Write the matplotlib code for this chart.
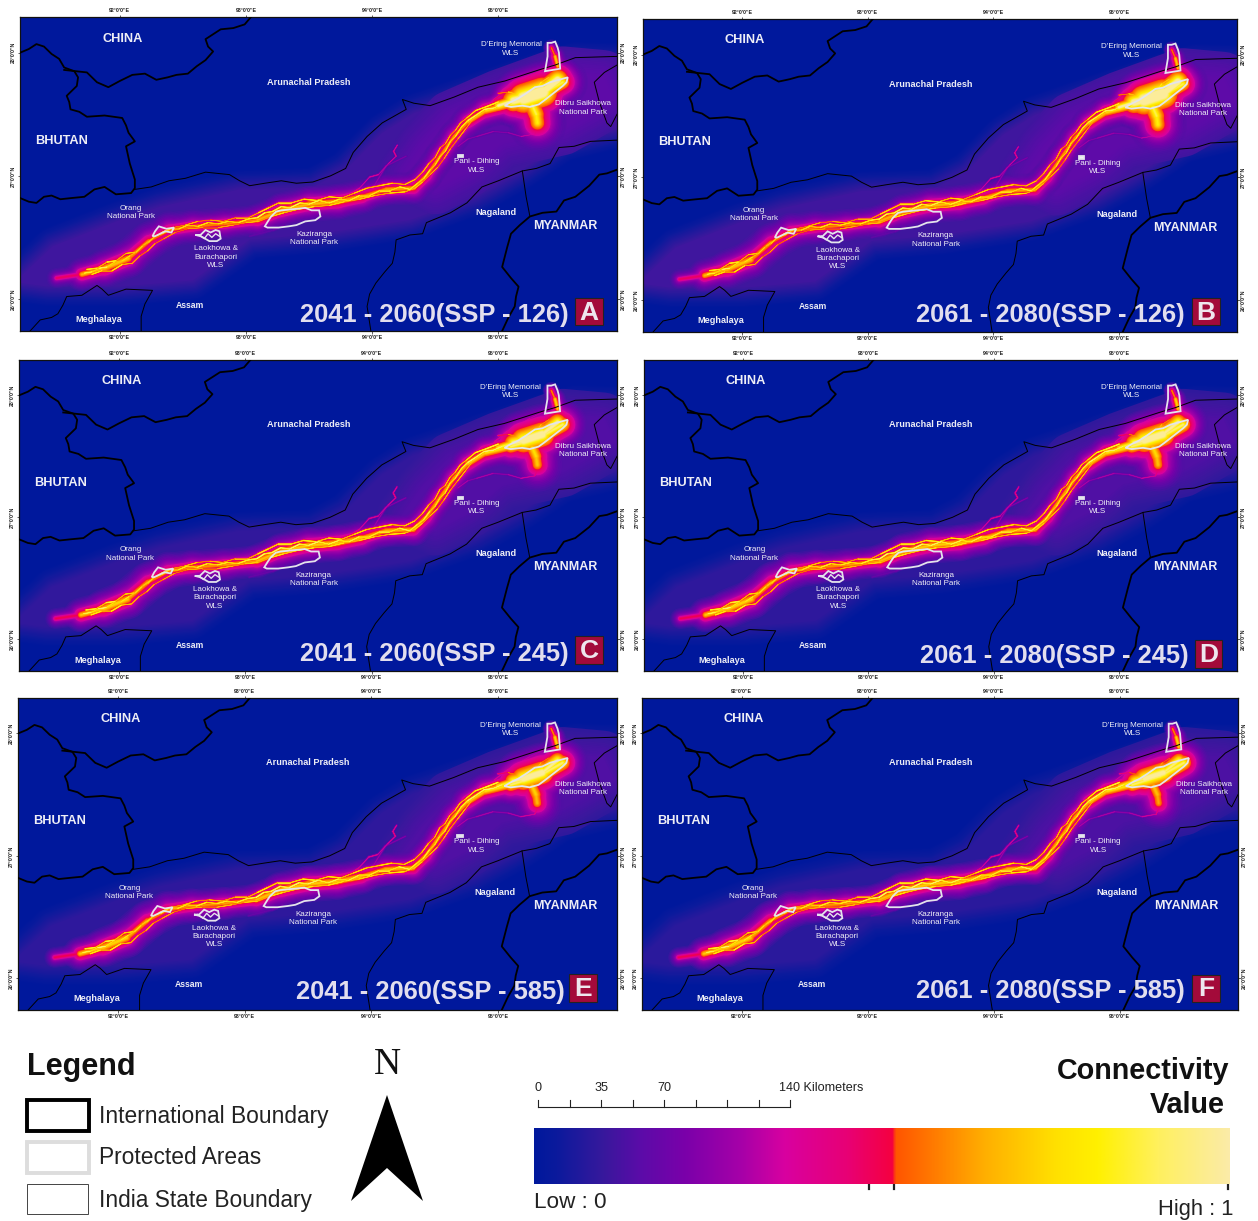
import numpy as np
import matplotlib
matplotlib.use("Agg")
import matplotlib.pyplot as plt
from matplotlib.collections import LineCollection
from matplotlib.colors import LinearSegmentedColormap
from matplotlib.patches import Rectangle, Polygon

W, H = 1258, 1221
plt.rcParams['font.family'] = ['Liberation Sans', 'DejaVu Sans']

# ---------- panels ----------
periods = ['2041 - 2060', '2061 - 2080', '2041 - 2060', '2061 - 2080', '2041 - 2060', '2061 - 2080']
ssps = ['126', '126', '245', '245', '585', '585']
letters = ['A', 'B', 'C', 'D', 'E', 'F']
panel_haze = [0.11, 0.11, 0.09, 0.085, 0.085, 0.08]
panel_core = [1.00, 1.00, 1.04, 1.04, 1.04, 1.04]
panel_blob = [1.00, 1.00, 0.86, 0.84, 0.82, 0.78]

lon_ticks = [92, 93, 94, 95]
lat_ticks = [26, 27, 28]
lon_range = (91.21, 95.94)
lat_range = (25.74, 28.29)

# ---------- connectivity colour ramp ----------
ramp_pos = [0, 0.03, 0.10, 0.15, 0.22, 0.30, 0.36, 0.45, 0.515, 0.52, 0.65, 0.75, 0.81, 0.90, 1.0]
ramp_col = ['#00189c', '#0a1a9c', '#38189c', '#5a0ca8', '#7c00aa', '#a800a8', '#d800a0', '#e80075',
            '#f50040', '#ff5500', '#ffb000', '#ffe000', '#fff000', '#fff060', '#fbeba8']

# ---------- boundaries (lon, lat) ----------
intl_west_lon = [91.21, 91.28, 91.34, 91.40, 91.46, 91.52, 91.56, 91.64, 91.67, 91.66, 91.58, 91.60, 91.61, 91.68, 91.74, 91.88, 92.02, 92.05, 92.07, 92.12, 92.05, 92.08, 92.12, 92.12, 92.09, 91.97, 91.88, 91.80, 91.72, 91.62, 91.53, 91.46, 91.40, 91.34, 91.28, 91.21]
intl_west_lat = [28.00, 28.03, 28.07, 28.05, 27.99, 27.95, 27.88, 27.85, 27.80, 27.73, 27.65, 27.60, 27.54, 27.52, 27.48, 27.49, 27.47, 27.41, 27.35, 27.28, 27.24, 27.10, 26.97, 26.90, 26.86, 26.85, 26.91, 26.89, 26.83, 26.82, 26.81, 26.84, 26.83, 26.78, 26.79, 26.82]
intl_china_lon = [91.56, 91.74, 91.82, 91.91, 92.00, 92.10, 92.20, 92.29, 92.38, 92.45, 92.54, 92.61, 92.68, 92.74, 92.70, 92.68, 92.74, 92.80, 92.90, 92.99, 93.04]
intl_china_lat = [27.86, 27.84, 27.76, 27.72, 27.77, 27.82, 27.83, 27.78, 27.80, 27.82, 27.83, 27.89, 27.94, 28.01, 28.05, 28.11, 28.15, 28.19, 28.20, 28.23, 28.29]
intl_myanmar_lon = [95.94, 95.86, 95.80, 95.72, 95.61, 95.52, 95.46, 95.35, 95.25, 95.17, 95.10, 95.07, 95.05, 95.03, 95.10, 95.16, 95.14, 95.13, 95.08, 95.03]
intl_myanmar_lat = [27.05, 27.02, 27.01, 26.92, 26.83, 26.80, 26.71, 26.70, 26.67, 26.60, 26.53, 26.42, 26.34, 26.26, 26.17, 26.10, 26.02, 25.94, 25.85, 25.74]

state_ap_lon = [92.12, 92.25, 92.39, 92.52, 92.68, 92.87, 92.95, 93.03, 93.15, 93.28, 93.40, 93.53, 93.67, 93.79, 93.85, 93.96, 94.08, 94.27, 94.24, 94.33, 94.46, 94.65, 94.84, 95.05, 95.32, 95.45, 95.61, 95.94]
state_ap_lat = [26.89, 26.91, 26.96, 26.98, 27.03, 27.01, 26.96, 26.92, 26.94, 26.96, 26.94, 26.95, 27.00, 27.06, 27.19, 27.32, 27.43, 27.54, 27.62, 27.59, 27.57, 27.64, 27.72, 27.77, 27.86, 27.90, 27.96, 27.97]
state_naga_lon = [95.94, 95.73, 95.60, 95.48, 95.41, 95.30, 95.19, 95.00, 94.87, 94.75, 94.62, 94.43, 94.40, 94.30, 94.19, 94.18, 94.16, 94.10, 94.03, 93.98, 93.96, 93.99]
state_naga_lat = [27.29, 27.28, 27.24, 27.23, 27.10, 27.06, 27.04, 26.96, 26.91, 26.78, 26.70, 26.62, 26.53, 26.52, 26.48, 26.38, 26.29, 26.22, 26.13, 26.04, 25.94, 25.74]
state_link_lon = [95.19, 95.22, 95.25]
state_link_lat = [27.04, 26.83, 26.67]
state_east_lon = [95.94, 95.84, 95.76, 95.80, 95.86, 95.89, 95.94]
state_east_lat = [27.90, 27.84, 27.76, 27.60, 27.43, 27.40, 27.50]
state_megh_lon = [91.29, 91.37, 91.46, 91.51, 91.55, 91.58, 91.70, 91.82, 91.86, 91.91, 92.05, 92.26, 92.20, 92.17, 92.17]
state_megh_lat = [25.74, 25.83, 25.85, 25.88, 25.95, 26.02, 26.03, 26.11, 26.08, 26.03, 26.08, 26.07, 25.96, 25.86, 25.74]

# ---------- low-connectivity envelopes ----------
haze_lon = [91.21, 91.47, 91.97, 92.32, 92.95, 93.53, 93.79, 94.08, 94.33, 94.87, 95.32, 95.61, 95.94, 95.94, 95.51, 95.19, 94.81, 94.30, 93.60, 93.03, 92.58, 92.01, 91.43, 91.21]
haze_lat = [26.18, 26.43, 26.63, 26.75, 26.89, 26.91, 27.05, 27.35, 27.51, 27.70, 27.85, 27.93, 27.92, 27.38, 27.27, 27.05, 26.83, 26.64, 26.53, 26.48, 26.15, 26.10, 26.10, 26.13]
east_haze_lon = [94.25, 94.40, 94.62, 95.00, 95.51, 95.83, 95.92, 95.51, 95.03, 94.78, 94.50]
east_haze_lat = [27.02, 27.24, 27.48, 27.65, 27.84, 27.81, 27.62, 27.38, 27.27, 27.05, 26.90]

# ---------- corridors: (lon, lat, connectivity level, glow width) ----------
main_lon = [91.50, 91.70, 91.88, 92.07, 92.23, 92.39, 92.58, 92.83, 93.09, 93.28, 93.50, 93.73, 93.92, 94.11, 94.33, 94.43, 94.54, 94.65, 94.76, 94.90, 95.10, 95.32, 95.51]
main_lat = [26.17, 26.20, 26.25, 26.33, 26.47, 26.56, 26.59, 26.61, 26.64, 26.72, 26.77, 26.79, 26.83, 26.89, 26.90, 27.00, 27.16, 27.32, 27.44, 27.53, 27.58, 27.65, 27.76]
main_level = [0.50, 0.70, 0.72, 0.62, 0.58, 0.60, 0.60, 0.62, 0.68, 0.70, 0.70, 0.68, 0.64, 0.66, 0.64, 0.62, 0.62, 0.62, 0.70, 0.76, 0.90, 0.90, 0.55]
main_glow = [24, 32, 36, 40, 40, 36, 34, 32, 32, 34, 34, 34, 32, 32, 32, 32, 32, 32, 32, 32, 36, 42, 22]

filament_lon = [91.72, 91.78, 91.84, 91.90, 91.96, 92.02, 92.08, 92.13, 92.18, 92.23, 92.28, 92.34, 92.40, 92.47, 92.54, 92.62, 92.70, 92.78, 92.86, 92.94, 93.02, 93.09, 93.15, 93.21, 93.28, 93.35, 93.43, 93.50, 93.58, 93.66, 93.74, 93.82, 93.90, 93.98, 94.06, 94.14, 94.22, 94.30, 94.36, 94.41, 94.46, 94.50, 94.54, 94.58, 94.62, 94.66, 94.71, 94.76, 94.82, 94.89, 94.96, 95.03]
filament_lat = [26.21, 26.22, 26.25, 26.26, 26.30, 26.31, 26.35, 26.38, 26.43, 26.46, 26.51, 26.53, 26.57, 26.57, 26.60, 26.59, 26.62, 26.61, 26.63, 26.62, 26.65, 26.66, 26.70, 26.71, 26.75, 26.74, 26.78, 26.77, 26.80, 26.78, 26.81, 26.80, 26.84, 26.84, 26.88, 26.88, 26.91, 26.89, 26.94, 26.98, 27.05, 27.09, 27.16, 27.20, 27.28, 27.32, 27.40, 27.45, 27.49, 27.54, 27.55, 27.58]
filament_level = [0.92, 0.80, 0.98, 0.82, 0.75, 0.85, 0.72, 0.80, 0.70, 0.78, 0.72, 0.82, 0.74, 0.84, 0.76, 0.86, 0.78, 0.86, 0.80, 0.88, 0.92, 0.98, 0.90, 0.96, 0.92, 0.98, 0.90, 0.96, 0.88, 0.92, 0.84, 0.90, 0.82, 0.86, 0.90, 0.82, 0.92, 0.86, 0.80, 0.88, 0.74, 0.82, 0.76, 0.84, 0.78, 0.86, 0.88, 0.96, 0.92, 0.98, 0.94, 1.00]
filament_glow = [5] * 52

upper_lon = [91.74, 91.82, 91.90, 91.97, 92.05, 92.12, 92.19, 92.26, 92.33, 92.42, 92.52, 92.62, 92.72, 92.82, 92.92, 93.02, 93.10, 93.18, 93.26, 93.36, 93.46, 93.56, 93.66, 93.76, 93.86, 93.96, 94.06, 94.16, 94.26, 94.34, 94.40, 94.45, 94.50, 94.54, 94.58, 94.62, 94.66, 94.70, 94.75, 94.82, 94.90, 95.00]
upper_lat = [26.24, 26.25, 26.30, 26.31, 26.37, 26.38, 26.44, 26.49, 26.54, 26.58, 26.60, 26.63, 26.64, 26.63, 26.66, 26.66, 26.70, 26.74, 26.78, 26.78, 26.81, 26.80, 26.83, 26.82, 26.86, 26.90, 26.92, 26.94, 26.93, 26.97, 27.03, 27.10, 27.15, 27.23, 27.26, 27.33, 27.37, 27.43, 27.47, 27.53, 27.56, 27.60]
upper_level = [0.88, 0.72, 0.90, 0.70, 0.78, 0.66, 0.74, 0.62, 0.72, 0.64, 0.74, 0.62, 0.72, 0.66, 0.76, 0.68, 0.84, 0.76, 0.88, 0.78, 0.86, 0.74, 0.82, 0.70, 0.78, 0.72, 0.80, 0.70, 0.76, 0.68, 0.74, 0.66, 0.72, 0.64, 0.72, 0.66, 0.74, 0.70, 0.80, 0.86, 0.90, 0.96]
upper_glow = [5] * 42

lower_lon = [91.78, 91.86, 91.94, 92.02, 92.10, 92.16, 92.22, 92.28, 92.35, 92.44, 92.54, 92.66, 92.78, 92.90, 93.00, 93.10, 93.20, 93.30, 93.42, 93.54, 93.66, 93.78, 93.90, 94.02, 94.14, 94.26, 94.34, 94.40, 94.46, 94.52, 94.57, 94.62, 94.68, 94.74, 94.80]
lower_lat = [26.20, 26.23, 26.23, 26.28, 26.29, 26.35, 26.39, 26.45, 26.49, 26.54, 26.57, 26.58, 26.58, 26.60, 26.62, 26.63, 26.67, 26.70, 26.73, 26.75, 26.76, 26.79, 26.81, 26.84, 26.86, 26.87, 26.90, 26.95, 27.01, 27.07, 27.14, 27.22, 27.30, 27.38, 27.46]
lower_level = [0.84, 0.70, 0.86, 0.72, 0.70, 0.62, 0.70, 0.62, 0.68, 0.60, 0.70, 0.62, 0.72, 0.64, 0.76, 0.68, 0.82, 0.74, 0.84, 0.72, 0.82, 0.70, 0.78, 0.70, 0.82, 0.72, 0.76, 0.66, 0.72, 0.62, 0.70, 0.64, 0.72, 0.68, 0.78]
lower_glow = [5] * 35

north_lon = [93.79, 93.90, 93.98, 94.05, 94.13, 94.19, 94.17, 94.20]
north_lat = [26.83, 26.90, 26.99, 27.01, 27.10, 27.16, 27.20, 27.25]
north_level = [0.46, 0.40, 0.44, 0.38, 0.42, 0.48, 0.44, 0.50]
north_glow = [6, 5, 5, 5, 4, 4, 4, 4]

north2_lon = [94.01, 94.11, 94.27]
north2_lat = [26.91, 27.08, 27.16]
north2_level = [0.34, 0.30, 0.28]
north2_glow = [7, 6, 4]

east_lon = [94.68, 94.76, 94.83, 94.96, 95.08, 95.18, 95.29, 95.33]
east_lat = [27.24, 27.30, 27.32, 27.36, 27.35, 27.32, 27.34, 27.43]
east_level = [0.36, 0.32, 0.36, 0.32, 0.36, 0.40, 0.46, 0.48]
east_glow = [6, 6, 6, 6, 6, 6, 6, 5]

kaz_lon = [93.03, 93.22, 93.30]
kaz_lat = [26.51, 26.56, 26.60]
kaz_level = [0.22, 0.24, 0.24]
kaz_glow = [12, 12, 8]

upper_east_lon = [94.97, 95.10, 95.25, 95.41]
upper_east_lat = [27.62, 27.72, 27.81, 27.89]
upper_east_level = [0.50, 0.46, 0.44, 0.34]
upper_east_glow = [10, 10, 8, 8]

dibru_lon = [95.00, 95.12, 95.20, 95.35, 95.47]
dibru_lat = [27.57, 27.61, 27.63, 27.68, 27.78]
dibru_level = [1.05, 1.22, 1.40, 1.22, 0.80]
dibru_glow = [24, 40, 46, 38, 16]

spike_north_lon = [95.28, 95.34, 95.40]
spike_north_lat = [27.68, 27.76, 27.80]
spike_north_level = [0.86, 0.74, 0.62]
spike_north_glow = [9, 8, 6]

spike_west_lon = [95.16, 95.08, 95.00]
spike_west_lat = [27.66, 27.68, 27.67]
spike_west_level = [0.74, 0.62, 0.55]
spike_west_glow = [8, 7, 5]

lobe_lon = [95.27, 95.30, 95.31]
lobe_lat = [27.57, 27.50, 27.43]
lobe_level = [0.90, 0.84, 0.76]
lobe_glow = [48, 50, 40]

dering_lon = [95.42, 95.45, 95.47]
dering_lat = [28.04, 27.97, 27.89]
dering_level = [0.58, 0.72, 0.62]
dering_glow = [18, 20, 14]

strands = [
    (main_lon, main_lat, main_level, main_glow, 'core'),
    (upper_lon, upper_lat, upper_level, upper_glow, 'core'),
    (lower_lon, lower_lat, lower_level, lower_glow, 'core'),
    (filament_lon, filament_lat, filament_level, filament_glow, 'core'),
    (north_lon, north_lat, north_level, north_glow, 'core'),
    (north2_lon, north2_lat, north2_level, north2_glow, 'core'),
    (east_lon, east_lat, east_level, east_glow, 'core'),
    (kaz_lon, kaz_lat, kaz_level, kaz_glow, 'core'),
    (upper_east_lon, upper_east_lat, upper_east_level, upper_east_glow, 'blob'),
    (dibru_lon, dibru_lat, dibru_level, dibru_glow, 'blob'),
    (spike_north_lon, spike_north_lat, spike_north_level, spike_north_glow, 'blob'),
    (spike_west_lon, spike_west_lat, spike_west_level, spike_west_glow, 'blob'),
    (lobe_lon, lobe_lat, lobe_level, lobe_glow, 'blob'),
    (dering_lon, dering_lat, dering_level, dering_glow, 'core'),
]

# ---------- protected areas ----------
protected = {
    'dering': ([95.39, 95.42, 95.45, 95.47, 95.48, 95.49, 95.43, 95.37, 95.38, 95.39], [28.08, 28.08, 28.09, 28.04, 28.00, 27.87, 27.86, 27.85, 27.91, 27.97]),
    'dibru': ([95.05, 95.10, 95.16, 95.22, 95.29, 95.35, 95.41, 95.48, 95.55, 95.54, 95.51, 95.46, 95.41, 95.36, 95.32, 95.25, 95.19, 95.10], [27.57, 27.60, 27.63, 27.67, 27.72, 27.73, 27.76, 27.78, 27.80, 27.76, 27.73, 27.69, 27.65, 27.61, 27.58, 27.56, 27.57, 27.56]),
    'kaziranga': ([93.15, 93.18, 93.20, 93.24, 93.28, 93.38, 93.47, 93.52, 93.58, 93.59, 93.55, 93.47, 93.40, 93.34, 93.26, 93.17], [26.59, 26.64, 26.67, 26.71, 26.72, 26.73, 26.74, 26.72, 26.72, 26.67, 26.64, 26.63, 26.60, 26.59, 26.58, 26.58]),
    'orang': ([92.26, 92.28, 92.31, 92.34, 92.37, 92.43, 92.41, 92.36, 92.32, 92.28], [26.51, 26.55, 26.59, 26.58, 26.57, 26.58, 26.54, 26.55, 26.53, 26.51]),
    'laokhowa': ([92.60, 92.64, 92.68, 92.72, 92.76, 92.79, 92.80, 92.77, 92.71, 92.66, 92.64], [26.52, 26.52, 26.56, 26.54, 26.56, 26.55, 26.49, 26.47, 26.47, 26.50, 26.51]),
    'pani': ([94.68, 94.72, 94.72, 94.68], [27.17, 27.17, 27.15, 27.15]),
}
laokhowa_inner_lon = [92.63, 92.67, 92.70, 92.73, 92.76, 92.79]
laokhowa_inner_lat = [26.52, 26.49, 26.53, 26.50, 26.53, 26.51]

# ---------- place names: text, lon, lat, size, weight ----------
names = [
    ('CHINA', 92.02, 28.115, 9.2, 'bold'),
    ('BHUTAN', 91.54, 27.285, 9.2, 'bold'),
    ('Arunachal Pradesh', 93.50, 27.76, 6.6, 'bold'),
    ('Nagaland', 94.98, 26.70, 6.6, 'bold'),
    ('MYANMAR', 95.53, 26.59, 9.0, 'bold'),
    ('Assam', 92.56, 25.95, 6.2, 'bold'),
    ('Meghalaya', 91.83, 25.83, 6.6, 'bold'),
    ("D'Ering Memorial\nWLS", 95.10, 28.03, 5.8, 'normal'),
    ('Dibru Saikhowa\nNational Park', 95.67, 27.55, 5.8, 'normal'),
    ('Pani - Dihing\nWLS', 94.83, 27.08, 5.8, 'normal'),
    ('Kaziranga\nNational Park', 93.54, 26.49, 5.8, 'normal'),
    ('Laokhowa &\nBurachapori\nWLS', 92.76, 26.34, 5.8, 'normal'),
    ('Orang\nNational Park', 92.09, 26.70, 5.8, 'normal'),
]

# ---------- layout, in pixels of the output image ----------
panel_boxes = [(20, 17, 617, 331), (643, 19, 1237, 332),
               (19, 360, 617, 671), (644, 360, 1237, 671),
               (18, 698, 617, 1010), (642, 698, 1238, 1010)]
title_right = [569, 1185, 569, 1189, 565, 1185]
title_y = [315, 315, 654, 656, 992, 991]
tag_boxes = [(575, 298, 603, 325), (1192, 298, 1220, 325), (575, 636, 603, 664),
             (1195, 640, 1222, 668), (569, 974, 597, 1002), (1192, 975, 1220, 1002)]

cmap = LinearSegmentedColormap.from_list('connectivity', list(zip(ramp_pos, ramp_col)), N=512)
fig = plt.figure(figsize=(W / 100, H / 100), dpi=100, facecolor='white')


def fx(px):
    return px / W


def fy(py):
    return 1 - py / H


thresholds = np.arange(0.14, 1.0, 0.02)


def soft_polygon(ax, lon, lat, level, spread, z):
    steps = 16
    for j in range(1, steps + 1):
        c = cmap(level * j / steps)
        ax.add_patch(Polygon(np.column_stack([lon, lat]), closed=True, facecolor=c, edgecolor=c,
                             lw=spread * (steps - j) / steps, joinstyle='round', zorder=z))


def draw_panel(i):
    x0, y0, x1, y1 = panel_boxes[i]
    ax = fig.add_axes([fx(x0), fy(y1), fx(x1 - x0), (y1 - y0) / H])
    ax.set_xlim(*lon_range)
    ax.set_ylim(*lat_range)
    ax.set_facecolor(cmap(0.0))

    soft_polygon(ax, haze_lon, haze_lat, panel_haze[i], 30, 1)
    # the inner envelope fades out from the outer one, so its edge does not show
    steps = 16
    for j in range(1, steps + 1):
        c = cmap(panel_haze[i] + 0.05 * j / steps)
        ax.add_patch(Polygon(np.column_stack([east_haze_lon, east_haze_lat]), closed=True,
                             facecolor=c, edgecolor=c, lw=40 * (steps - j) / steps,
                             joinstyle='round', zorder=1.1))

    # glowing corridors: wide low values first, narrow high values on top
    for k, t in enumerate(thresholds):
        segs, widths = [], []
        for lon, lat, lev, glow, kind in strands:
            gain = panel_core[i] if kind == 'core' else panel_blob[i]
            for a in range(len(lon) - 1):
                level = lev[a] * gain
                if level > t:
                    f = 1 - t / level
                    segs.append([(lon[a], lat[a]), (lon[a + 1], lat[a + 1])])
                    widths.append(glow[a] * f ** 3 + 0.30 * glow[a] * f ** 0.8)
        if segs:
            ax.add_collection(LineCollection(segs, linewidths=widths, colors=[cmap(t)],
                                             alpha=0.35 if t < 0.34 else 1.0,
                                             capstyle='round', zorder=2 + k * 0.01))

    # state and international boundaries
    for lon, lat in [(state_ap_lon, state_ap_lat), (state_naga_lon, state_naga_lat),
                     (state_link_lon, state_link_lat), (state_east_lon, state_east_lat),
                     (state_megh_lon, state_megh_lat)]:
        ax.plot(lon, lat, color='black', lw=0.7, zorder=4)
    for lon, lat in [(intl_west_lon, intl_west_lat), (intl_china_lon, intl_china_lat),
                     (intl_myanmar_lon, intl_myanmar_lat)]:
        ax.plot(lon, lat, color='black', lw=1.3, zorder=4)

    # protected areas
    for key, (lon, lat) in protected.items():
        ax.add_patch(Polygon(np.column_stack([lon, lat]), closed=True,
                             facecolor='#f0f0f4' if key == 'pani' else 'none',
                             edgecolor='#e4e4ec', lw=1.3, zorder=5))
    ax.plot(laokhowa_inner_lon, laokhowa_inner_lat, color='#e4e4ec', lw=1.0, zorder=5)

    for text, lon, lat, size, weight in names:
        ax.text(lon, lat, text, color='#eeeef6', fontsize=size, fontweight=weight,
                ha='center', va='center', linespacing=1.25, zorder=6)

    # graticule labels
    ax.set_xticks(lon_ticks)
    ax.set_yticks(lat_ticks)
    ax.set_xticklabels([f'{v}°0\'0"E' for v in lon_ticks], fontsize=3.8, fontweight='bold')
    ax.set_yticklabels([f'{v}°0\'0"N' for v in lat_ticks], fontsize=3.8, fontweight='bold',
                       rotation=90, va='center')
    ax.tick_params(top=True, right=True, labeltop=True, labelright=True,
                   length=1.8, width=0.5, pad=1, color='#222222', labelcolor='#222222')
    for s in ax.spines.values():
        s.set_linewidth(0.9)
        s.set_color('#111111')

    # period caption and panel letter
    fig.text(fx(title_right[i]), fy(title_y[i]), f'{periods[i]}(SSP - {ssps[i]})',
             ha='right', va='center', fontsize=18.4, fontweight='bold', color='#e2deee', zorder=10)
    bx0, by0, bx1, by1 = tag_boxes[i]
    fig.add_artist(Rectangle((fx(bx0), fy(by1)), fx(bx1 - bx0), (by1 - by0) / H,
                             transform=fig.transFigure, facecolor='#a30a3a',
                             edgecolor='#222222', lw=0.8, zorder=10))
    fig.text(fx((bx0 + bx1) / 2), fy((by0 + by1) / 2 + 1), letters[i], ha='center', va='center',
             fontsize=19, fontweight='bold', color='#eee6ee', zorder=11)


for i in range(6):
    draw_panel(i)

# ---------- legend block, drawn on a full-figure axes in image pixels ----------
leg = fig.add_axes([0, 0, 1, 1], zorder=20)
leg.set_xlim(0, W)
leg.set_ylim(H, 0)
leg.axis('off')
leg.patch.set_alpha(0)

leg.text(27, 1067, 'Legend', fontsize=22, fontweight='bold', va='center', ha='left', color='#111111')
leg.add_patch(Rectangle((26.5, 1099.5), 62, 31, fill=False, edgecolor='black', lw=2.8))
leg.add_patch(Rectangle((26.5, 1141.5), 62, 31, fill=False, edgecolor='#dddddd', lw=2.8))
leg.add_patch(Rectangle((27, 1184), 61, 30, fill=False, edgecolor='#444444', lw=0.7))
for label, y in [('International Boundary', 1117), ('Protected Areas', 1158), ('India State Boundary', 1200)]:
    leg.text(99, y, label, fontsize=16.4, va='center', ha='left', color='#222222')

leg.text(387, 1065, 'N', family='Liberation Serif', fontsize=27, ha='center', va='center', color='#111111')
leg.add_patch(Polygon([(387, 1095), (423, 1201), (387, 1168), (351, 1201)], closed=True,
                      facecolor='black', edgecolor='none'))

scale_km = [0, 17.5, 35, 52.5, 70, 87.5, 105, 122.5, 140]
km_px = 252 / 140
leg.plot([538, 538 + 140 * km_px], [1107, 1107], color='#222222', lw=0.8)
for km in scale_km:
    leg.plot([538 + km * km_px] * 2, [1100, 1107], color='#222222', lw=0.8)
for km in [0, 35, 70]:
    leg.text(538 + km * km_px, 1088, str(km), fontsize=9.1, ha='center', va='center', color='#222222')
leg.text(779, 1088, '140 Kilometers', fontsize=9.1, ha='left', va='center', color='#222222')

leg.text(1229, 1071, 'Connectivity', fontsize=20.7, fontweight='bold', ha='right', va='center', color='#111111')
leg.text(1225, 1105, 'Value', fontsize=20.7, fontweight='bold', ha='right', va='center', color='#111111')
leg.text(534, 1203, 'Low : 0', fontsize=16.2, ha='left', va='center', color='#222222')
leg.text(1233, 1209, 'High : 1', fontsize=15.8, ha='right', va='center', color='#222222')
for x in [869, 894, 1228]:
    leg.plot([x, x], [1184, 1189], color='#222222', lw=1.6)

cax = fig.add_axes([fx(534), fy(1184), fx(696), 56 / H], zorder=21)
cax.imshow(np.linspace(0, 1, 512)[None, :], cmap=cmap, aspect='auto', vmin=0, vmax=1)
cax.axis('off')

fig.savefig('out.png', dpi=100)
